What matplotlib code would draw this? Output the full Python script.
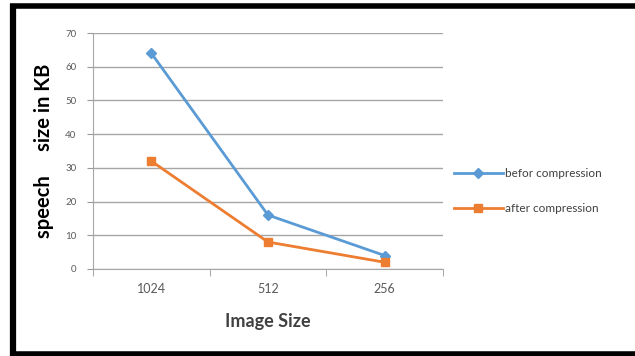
import matplotlib
matplotlib.use("Agg")
import matplotlib.pyplot as plt
from matplotlib.lines import Line2D

sizes = ["1024", "512", "256"]
before = [64, 16, 4]
after = [32, 8, 2]
yticks = [0, 10, 20, 30, 40, 50, 60, 70]

plt.rcParams['font.family'] = ['Lato', 'DejaVu Sans']

fig = plt.figure(figsize=(6.35, 3.56), dpi=100)

# black frame: top, left and bottom edges
frame = dict(transform=fig.transFigure, color='black', solid_capstyle='butt')
fig.lines.append(Line2D([0.016, 1.0], [0.984, 0.984], lw=4, **frame))
fig.lines.append(Line2D([0.021, 0.021], [0.0, 0.99], lw=4.5, **frame))
fig.lines.append(Line2D([0.016, 1.0], [0.006, 0.006], lw=4, **frame))

ax = fig.add_axes([0.1465, 0.2444, 0.551, 0.6629])
x = range(len(sizes))
blue = '#5B9BD5'
orange = '#ED7D31'
ax.plot(x, before, color=blue, lw=2, marker='D', ms=5, label='befor compression')
ax.plot(x, after, color=orange, lw=2, marker='s', ms=6, label='after compression')

ax.set_xlim(-0.5, len(sizes) - 0.5)
ax.set_ylim(0, 70)
ax.set_yticks(yticks)
ax.set_xticks(list(x))
ax.set_xticklabels(sizes)
ax.set_xticks([-0.5, 0.5, 1.5, 2.5], minor=True)
ax.tick_params(axis='x', which='major', length=0, pad=10, labelsize=9, labelcolor='#595959')
ax.tick_params(axis='x', which='minor', length=5, color='#999999', direction='out')
ax.tick_params(axis='y', length=4, color='#999999', labelsize=7, labelcolor='#595959', pad=8)
ax.yaxis.grid(True, color='#A6A6A6', lw=1)
ax.set_axisbelow(True)
for s in ['top', 'right']:
    ax.spines[s].set_visible(False)
ax.spines['left'].set_color('#A6A6A6')
ax.spines['bottom'].set_color('#A6A6A6')

ax.set_xlabel('Image Size', fontsize=13, fontweight='bold', color='#404040', labelpad=13)
ax.set_ylabel('speech     size in KB', fontsize=14.5, fontweight='bold', color='#000000', labelpad=8)

ax.legend(loc='center left', bbox_to_anchor=(1.0, 0.33), frameon=False, fontsize=8.5,
          handlelength=4.2, handletextpad=0.2, labelspacing=2.0, labelcolor='#404040')

fig.savefig('out.png', dpi=100)
